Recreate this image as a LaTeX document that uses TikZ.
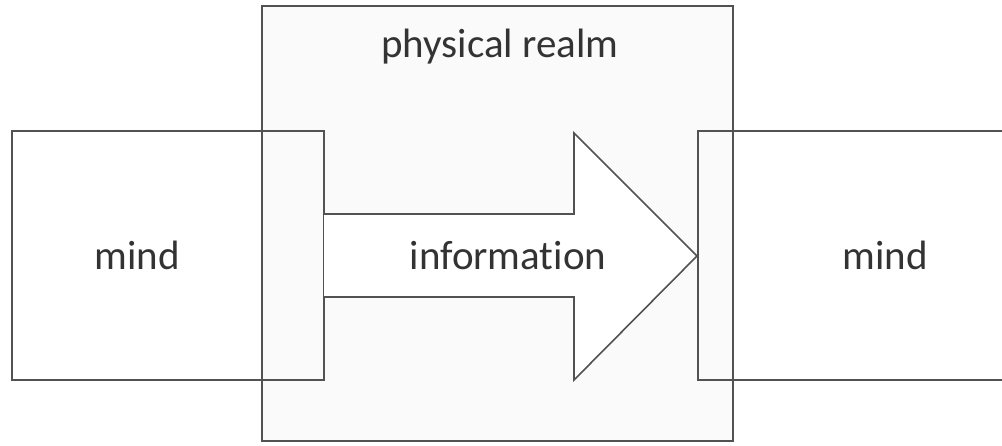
\documentclass[tikz,border=0pt]{standalone}
\usepackage{fontspec}
\setmainfont{Carlito}[Ligatures=NoCommon]
\usepackage{tikz}
\usetikzlibrary{positioning}

\begin{document}
\begin{tikzpicture}[
    x=0.5pt, y=-0.5pt,
    panel/.style={draw=black!68, line width=1pt, inner sep=0pt},
    lbl/.style={font=\fontsize{20.5}{24}\selectfont, text=black!80}
]
\useasboundingbox (0,0) rectangle (1002,445);
\begin{scope}
\clip (0,0) rectangle (1002,445);

% physical realm
\node[panel, fill=gray!4, minimum width=235.5pt, minimum height=217.5pt] (realm) at (497.5,223.5) {};
\node[lbl] (realmlbl) at (500,47) {physical realm};

% two minds
\node[panel, minimum width=156pt, minimum height=124.5pt] (mindL) at (168,255.5) {};
\node[panel, minimum width=186pt, minimum height=124.5pt] (mindR) at (884,255.5) {};
\node[lbl] (mindLlbl) at (137,255) {mind};
\node[lbl] (mindRlbl) at (885,255) {mind};

% information arrow
\coordinate (tip) at (697,256);
\draw[draw=black!68, line width=0.8pt, fill=white]
    (324,214) -- (574,214) -- (574,133) -- (tip) -- (574,380) -- (574,297) -- (324,297);
\node[lbl] (info) at (508,256) {information};
\end{scope}
\end{tikzpicture}
\end{document}
